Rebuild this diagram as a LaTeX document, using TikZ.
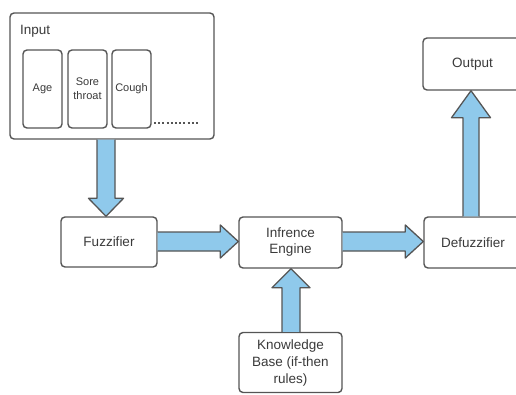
\documentclass[tikz,border=0pt]{standalone}
\usepackage{fontspec}
\setmainfont{Liberation Sans}
\usetikzlibrary{calc}
\definecolor{boxline}{HTML}{555555}
\definecolor{txt}{HTML}{3A3A3A}
\definecolor{arrfill}{HTML}{8FC9EB}
\tikzset{
  boxnode/.style={draw=boxline, line width=1.4pt, rounded corners=4pt, fill=white,
    inner sep=0pt, text=txt, font=\fontsize{13.5}{16}\selectfont, align=center},
  smallbox/.style={boxnode, font=\fontsize{11}{14}\selectfont},
  blockarr/.style={draw=boxline, line width=1.3pt, fill=arrfill, line join=round},
}
% #1 shaft half width, #2 head half width, #3 head length, #4 start, #5 tip
\newcommand{\blockarrow}[5]{%
  \coordinate (hb) at ($(#5)!#3!(#4)$);
  \draw[blockarr] ($(#4)!#1!90:(#5)$) -- ($(hb)!#1!-90:(#4)$) -- ($(hb)!#2!-90:(#4)$)
    -- (#5) -- ($(hb)!#2!90:(#4)$) -- ($(hb)!#1!90:(#4)$) -- ($(#4)!#1!-90:(#5)$);
}
\begin{document}
\begin{tikzpicture}[x=1pt,y=-1pt]
\useasboundingbox (0,0) rectangle (516,394);
\begin{scope}
\clip (0,0) rectangle (516,394);
% nodes
\node[boxnode, minimum width=204pt, minimum height=126pt] (input) at (112,76) {};
\node[text=txt, font=\fontsize{13.5}{16}\selectfont, anchor=west, inner sep=0pt] (inlabel) at (20,31) {Input};
\node[smallbox, minimum width=39pt, minimum height=78pt] (age) at (42.5,89) {Age};
\node[smallbox, minimum width=39pt, minimum height=78pt] (sore) at (87.5,89) {Sore\\throat};
\node[smallbox, minimum width=39pt, minimum height=78pt] (cough) at (131.5,89) {Cough};
\coordinate (dotsA) at (154,123);
\coordinate (dotsB) at (199,123);
\draw[boxline, line width=2pt, dash pattern=on 2pt off 2.2pt] (dotsA) -- (dotsB);

\node[boxnode, minimum width=96pt, minimum height=50pt] (fuzz) at (109,242) {Fuzzifier};
\node[boxnode, minimum width=103pt, minimum height=51pt] (inf) at (290.5,242.5) {Infrence\\Engine};
\node[boxnode, minimum width=98pt, minimum height=51pt] (defuzz) at (473,242.5) {Defuzzifier};
\node[boxnode, minimum width=99pt, minimum height=52pt] (out) at (472.5,64) {Output};
\node[boxnode, minimum width=103pt, minimum height=60pt, font=\fontsize{13.5}{17}\selectfont] (kb) at (290.5,362.5) {Knowledge\\Base (if-then\\rules)};

% arrow end points
\coordinate (a1s) at (input.south -| 106,0);
\coordinate (a1e) at (fuzz.north -| 106,0);
\coordinate (a2s) at (fuzz.east |- 0,241.5);
\coordinate (a2e) at (inf.west |- 0,241.5);
\coordinate (a3s) at (inf.east |- 0,241.5);
\coordinate (a3e) at (defuzz.west |- 0,241.5);
\coordinate (a4s) at (kb.north -| 291,0);
\coordinate (a4e) at (inf.south -| 291,0);
\coordinate (a5s) at (defuzz.north -| 471,0);
\coordinate (a5e) at (out.south -| 471,0);

\blockarrow{9pt}{17.5pt}{18pt}{a1s}{a1e}
\blockarrow{9.5pt}{16.5pt}{18pt}{a2s}{a2e}
\blockarrow{9.5pt}{16.5pt}{18pt}{a3s}{a3e}
\blockarrow{9pt}{19pt}{19pt}{a4s}{a4e}
\blockarrow{8pt}{19.5pt}{27pt}{a5s}{a5e}
\end{scope}
\end{tikzpicture}
\end{document}
